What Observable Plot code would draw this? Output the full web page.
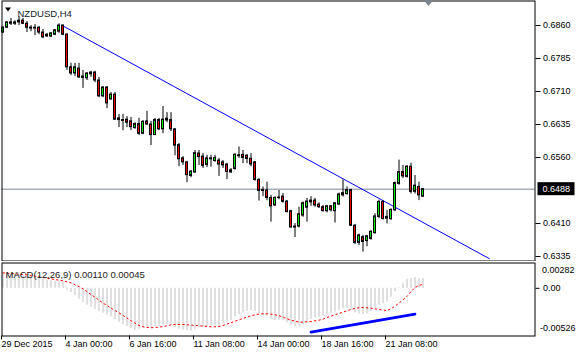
<!DOCTYPE html>
<html><head><meta charset="utf-8">
<script src="https://cdn.jsdelivr.net/npm/d3@7"></script>
<script src="https://cdn.jsdelivr.net/npm/@observablehq/plot@0.6"></script>
<style>
body{margin:0;background:#fff;}
#chart{position:relative;width:578px;height:352px;overflow:hidden;background:#fff;}
#chart svg{position:absolute;left:0;}
</style></head><body><div id="chart"></div>
<script>
const symbolTitle = "NZDUSD,H4";
const macdTitle = "MACD(12,26,9) 0.00110 0.00045";
const opens = [
0.6844,0.6855,0.6867,0.6864,0.6867,0.6871,0.6864,0.6855,0.6853,0.6855,
0.6844,0.6839,0.6835,0.6839,0.6846,0.6860,0.6839,0.6765,0.6751,0.6762,
0.6744,0.6740,0.6749,0.6753,0.6735,0.6699,0.6719,0.6692,0.6703,0.6649,
0.6645,0.6646,0.6642,0.6627,0.6636,0.6614,0.6642,0.6635,0.6611,0.6645,
0.6624,0.6648,0.6645,0.6624,0.6588,0.6558,0.6549,0.6518,0.6526,0.6569,
0.6562,0.6543,0.6558,0.6552,0.6553,0.6549,0.6544,0.6526,0.6534,0.6565,
0.6566,0.6564,0.6557,0.6549,0.6509,0.6486,0.6485,0.6468,0.6451,0.6468,
0.6471,0.6460,0.6438,0.6403,0.6403,0.6428,0.6446,0.6458,0.6462,0.6453,
0.6447,0.6438,0.6449,0.6438,0.6453,0.6474,0.6477,0.6486,0.6405,0.6366,
0.6379,0.6370,0.6375,0.6388,0.6425,0.6459,0.6425,0.6420,0.6440,0.6500,
0.6527,0.6516,0.6539,0.6482,0.6493,0.6471];
const highs = [
0.6858,0.6869,0.6876,0.6871,0.6880,0.6876,0.6869,0.6860,0.6862,0.6858,
0.6851,0.6842,0.6844,0.6851,0.6864,0.6861,0.6842,0.6774,0.6774,0.6774,
0.6758,0.6753,0.6756,0.6756,0.6742,0.6721,0.6721,0.6708,0.6708,0.6658,
0.6658,0.6653,0.6651,0.6639,0.6649,0.6644,0.6665,0.6642,0.6649,0.6649,
0.6676,0.6662,0.6662,0.6625,0.6592,0.6562,0.6551,0.6530,0.6576,0.6576,
0.6569,0.6565,0.6565,0.6565,0.6558,0.6553,0.6547,0.6535,0.6569,0.6584,
0.6576,0.6567,0.6569,0.6551,0.6512,0.6493,0.6504,0.6474,0.6471,0.6485,
0.6478,0.6462,0.6440,0.6410,0.6447,0.6459,0.6467,0.6471,0.6467,0.6457,
0.6451,0.6451,0.6451,0.6457,0.6479,0.6509,0.6493,0.6488,0.6408,0.6386,
0.6383,0.6383,0.6394,0.6432,0.6463,0.6462,0.6440,0.6443,0.6504,0.6554,
0.6542,0.6542,0.6547,0.6519,0.6504,0.6488];
const lows = [
0.6842,0.6853,0.6860,0.6860,0.6860,0.6862,0.6844,0.6846,0.6837,0.6839,
0.6830,0.6833,0.6833,0.6837,0.6842,0.6837,0.6758,0.6746,0.6744,0.6740,
0.6717,0.6735,0.6742,0.6730,0.6696,0.6696,0.6671,0.6690,0.6644,0.6628,
0.6621,0.6628,0.6621,0.6624,0.6610,0.6612,0.6633,0.6587,0.6610,0.6621,
0.6614,0.6639,0.6619,0.6564,0.6539,0.6542,0.6503,0.6514,0.6524,0.6542,
0.6535,0.6537,0.6538,0.6549,0.6517,0.6535,0.6510,0.6524,0.6531,0.6558,
0.6546,0.6546,0.6539,0.6506,0.6461,0.6471,0.6462,0.6413,0.6449,0.6464,
0.6456,0.6434,0.6399,0.6378,0.6400,0.6424,0.6413,0.6449,0.6447,0.6444,
0.6436,0.6434,0.6436,0.6411,0.6451,0.6470,0.6474,0.6403,0.6362,0.6360,
0.6345,0.6357,0.6372,0.6386,0.6421,0.6418,0.6409,0.6417,0.6437,0.6497,
0.6512,0.6513,0.6477,0.6477,0.6462,0.6469];
const closes = [
0.6855,0.6867,0.6864,0.6867,0.6871,0.6864,0.6855,0.6853,0.6855,0.6844,
0.6833,0.6835,0.6842,0.6849,0.6860,0.6839,0.6765,0.6751,0.6765,0.6742,
0.6741,0.6751,0.6753,0.6735,0.6699,0.6719,0.6683,0.6703,0.6646,0.6645,
0.6643,0.6639,0.6629,0.6636,0.6614,0.6641,0.6635,0.6611,0.6645,0.6624,
0.6646,0.6644,0.6624,0.6587,0.6556,0.6549,0.6520,0.6528,0.6570,0.6561,
0.6541,0.6558,0.6557,0.6559,0.6544,0.6542,0.6527,0.6531,0.6566,0.6564,
0.6559,0.6557,0.6544,0.6509,0.6484,0.6484,0.6468,0.6449,0.6468,0.6469,
0.6459,0.6436,0.6401,0.6402,0.6431,0.6456,0.6460,0.6462,0.6451,0.6447,
0.6438,0.6449,0.6440,0.6456,0.6476,0.6479,0.6486,0.6405,0.6366,0.6383,
0.6368,0.6381,0.6391,0.6426,0.6459,0.6420,0.6421,0.6441,0.6502,0.6527,
0.6517,0.6539,0.6482,0.6496,0.6474,0.6488];
const macdHist = [
0.00159,0.00159,0.00154,0.00154,0.00148,0.00143,0.00131,0.00120,0.00120,0.00109,
0.00098,0.00092,0.00087,0.00081,0.00076,0.00070,-0.00020,-0.00047,-0.00084,-0.00121,
-0.00158,-0.00188,-0.00214,-0.00240,-0.00262,-0.00277,-0.00300,-0.00318,-0.00351,-0.00381,
-0.00403,-0.00426,-0.00444,-0.00467,-0.00456,-0.00444,-0.00437,-0.00448,-0.00426,-0.00426,
-0.00411,-0.00403,-0.00411,-0.00437,-0.00456,-0.00467,-0.00474,-0.00478,-0.00456,-0.00444,
-0.00437,-0.00429,-0.00418,-0.00418,-0.00421,-0.00395,-0.00377,-0.00358,-0.00321,-0.00295,
-0.00273,-0.00258,-0.00247,-0.00258,-0.00284,-0.00303,-0.00315,-0.00345,-0.00360,-0.00355,
-0.00360,-0.00385,-0.00410,-0.00430,-0.00433,-0.00414,-0.00377,-0.00347,-0.00332,-0.00321,
-0.00306,-0.00295,-0.00284,-0.00266,-0.00247,-0.00229,-0.00221,-0.00247,-0.00273,-0.00288,
-0.00295,-0.00284,-0.00258,-0.00229,-0.00191,-0.00173,-0.00154,-0.00099,-0.00040,0.00005,
0.00055,0.00100,0.00110,0.00118,0.00105,0.00110];
const macdSignal = [
0.00172,0.00168,0.00165,0.00161,0.00157,0.00154,0.00150,0.00142,0.00135,0.00128,
0.00120,0.00113,0.00105,0.00098,0.00091,0.00083,0.00072,0.00061,0.00039,0.00020,
-0.00006,-0.00036,-0.00069,-0.00099,-0.00132,-0.00165,-0.00191,-0.00221,-0.00247,-0.00273,
-0.00303,-0.00332,-0.00362,-0.00388,-0.00414,-0.00429,-0.00436,-0.00440,-0.00436,-0.00433,
-0.00425,-0.00418,-0.00407,-0.00403,-0.00403,-0.00403,-0.00407,-0.00410,-0.00414,-0.00418,
-0.00421,-0.00425,-0.00429,-0.00429,-0.00425,-0.00414,-0.00399,-0.00384,-0.00366,-0.00351,
-0.00336,-0.00321,-0.00306,-0.00295,-0.00288,-0.00284,-0.00284,-0.00288,-0.00295,-0.00306,
-0.00321,-0.00340,-0.00355,-0.00366,-0.00377,-0.00377,-0.00373,-0.00370,-0.00362,-0.00355,
-0.00344,-0.00325,-0.00310,-0.00295,-0.00280,-0.00266,-0.00251,-0.00236,-0.00224,-0.00217,
-0.00214,-0.00217,-0.00221,-0.00229,-0.00236,-0.00243,-0.00247,-0.00229,-0.00199,-0.00165,
-0.00128,-0.00091,-0.00036,0.00009,0.00031,0.00045];
const priceTicks = [0.6860,0.6785,0.6710,0.6635,0.6560,0.6410,0.6335];
const timeTickIdx = [0,16,32,48,64,80,96];
const timeLabels = ["29 Dec 2015","4 Jan 00:00","6 Jan 16:00","11 Jan 08:00","14 Jan 00:00","18 Jan 16:00","21 Jan 08:00"];
const trendIdx = [14.8, 121.6];
const trendPrice = [0.6860, 0.6330];
const macdTrendIdx = [77, 103];
const macdTrendVal = [-0.00489, -0.00288];
const macdMax = 0.00282, macdMin = -0.00526;

const bars = opens.map((o,i)=>({i, o, h: highs[i], l: lows[i], c: closes[i]}));
const lastPrice = closes[closes.length-1];
const fmt4 = d3.format(".4f");
const xOpt = {domain:[0,105], range:[2.5,422.5]};
const font = {fontFamily:"'Liberation Sans', Arial, sans-serif", fontSize:"9px", background:"#fff", color:"#000"};

const main = Plot.plot({
  width:578, height:261,
  marginTop:0.5, marginRight:43.5, marginBottom:0.5, marginLeft:1.5,
  x:{...xOpt, axis:null},
  y:{domain:[0.6860,0.6335], range:[25,256]},
  style:font,
  marks:[
    Plot.ruleY([lastPrice], {stroke:"#7c8893"}),
    Plot.line(trendIdx.map((x,k)=>({x, y:trendPrice[k]})), {x:"x", y:"y", stroke:"#0000ff", strokeWidth:1, clip:true}),
    Plot.ruleX(bars, {x:"i", y1:"l", y2:"h", stroke:"#000"}),
    Plot.rect(bars, {x1:d=>d.i-0.25, x2:d=>d.i+0.25, y1:"o", y2:"c", fill:d=>d.c>=d.o?"#00ee00":"#f00000", stroke:"#000", strokeWidth:1}),
    Plot.ruleY(bars.filter(d=>Math.abs(d.c-d.o)<0.00015), {y:"c", x1:d=>d.i-0.375, x2:d=>d.i+0.375, stroke:"#000"}),
    Plot.frame({stroke:"#000"}),
    Plot.axisY({anchor:"right", ticks:priceTicks, tickFormat:fmt4, tickSize:5, tickPadding:3, label:null}),
    Plot.text([symbolTitle], {text:d=>d, frameAnchor:"top-left", dx:15.5, dy:9, textAnchor:"start", fill:"#141c28", fontSize:9.5})
  ]
});

const macd = Plot.plot({
  width:578, height:91,
  marginTop:1.5, marginRight:43.5, marginBottom:16.5, marginLeft:1.5,
  x:{...xOpt},
  y:{domain:[macdMin, macdMax], range:[74,1.5]},
  style:font,
  marks:[
    Plot.ruleX(macdHist.map((v,i)=>({i,v})), {x:"i", y1:0, y2:"v", stroke:"#c0c0c0"}),
    Plot.line(macdSignal.map((v,i)=>({i,v})), {x:"i", y:"v", stroke:"#ff0000", strokeWidth:1, strokeDasharray:"1.5,3"}),
    Plot.line(macdTrendIdx.map((x,k)=>({x, y:macdTrendVal[k]})), {x:"x", y:"y", stroke:"#0000ff", strokeWidth:2.7}),
    Plot.frame({stroke:"#000"}),
    Plot.axisX({ticks:timeTickIdx, tickFormat:d=>timeLabels[timeTickIdx.indexOf(d)], tickSize:4, tickPadding:1, textAnchor:"start", dx:-1.5, label:null}),
    Plot.axisY({anchor:"right", ticks:[0], tickFormat:()=>"0.00", tickSize:4, tickPadding:4, label:null}),
    Plot.text([macdMax], {y:d=>d, text:d=>d.toFixed(5), frameAnchor:"right", textAnchor:"start", dx:7, dy:7.5}),
    Plot.text([macdMin], {y:d=>d, text:d=>d.toFixed(5), frameAnchor:"right", textAnchor:"start", dx:5, dy:-7}),
    Plot.text([macdTitle], {text:d=>d, frameAnchor:"top-left", dx:3.5, dy:8.5, textAnchor:"start", fill:"#222", fontSize:9.5})
  ]
});

const host = document.getElementById("chart");
main.style.top = "0px";
macd.style.top = "261px";
host.appendChild(main);
host.appendChild(macd);

// price tag for the last price, placed through the plot's y scale
const yPix = main.scale("y").apply(lastPrice);
const sel = d3.select(main);
sel.append("rect").attr("x",537.5).attr("y",yPix-6.5).attr("width",37).attr("height",13).attr("fill","#000");
sel.append("text").attr("x",542.5).attr("y",yPix).attr("dy","0.34em").attr("fill","#fff")
  .attr("text-anchor","start")
  .attr("font-family","'Liberation Sans', Arial, sans-serif").attr("font-size",9).text(fmt4(lastPrice));
// symbol menu triangle and chart-shift marker
sel.append("path").attr("d","M5,7.5L11,7.5L8,11.5Z").attr("fill","#000");
sel.append("path").attr("d","M424,0.5L433,0.5L428.5,6Z").attr("fill","#7b8590");
</script></body></html>
